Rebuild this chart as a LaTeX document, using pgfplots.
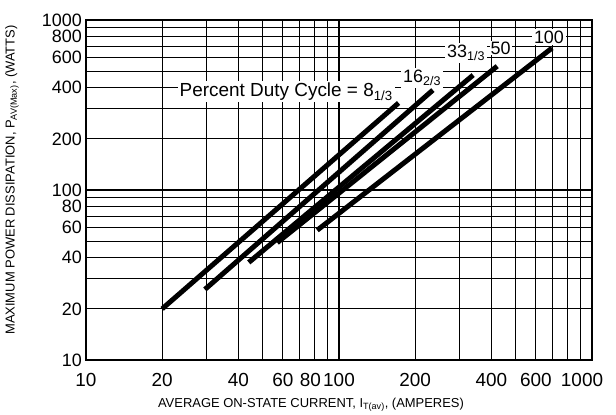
\documentclass[border=0pt]{standalone}
\usepackage{fontspec}
\setmainfont{Liberation Sans}
\usepackage{pgfplots}
\pgfplotsset{compat=1.18}
\begin{document}
\begin{tikzpicture}
\path[use as bounding box] (-86bp,-55bp) rectangle (530bp,360bp);
\begin{axis}[
  at={(0,0)}, anchor=south west,
  scale only axis, width=506bp, height=340bp,
  xmode=log, ymode=log,
  xmin=10, xmax=1000, ymin=10, ymax=1000,
  xtick={10,20,40,60,80,100,200,400,600,1000},
  xticklabels={10,20,40,60,\hspace*{-8bp}80,100,200,400,600,\hspace*{-20bp}1000},
  ytick={10,20,40,60,80,100,200,400,600,800,1000},
  yticklabels={10,20,40,60,80,100,200,400,600,800,1000},
  minor xtick={30,50,70,90,300,500,700,800,900},
  minor ytick={30,50,70,90,300,500,700,900},
  grid=both,
  major grid style={black, line width=1.2bp},
  minor grid style={black, line width=1.2bp},
  axis line style={line width=2.5bp},
  major tick length=0pt, minor tick length=0pt,
  xticklabel style={font=\fontsize{19}{19}\selectfont, inner sep=0pt, yshift=-13bp},
  yticklabel style={font=\fontsize{18}{18}\selectfont, inner sep=0pt, xshift=-4bp},
]
\addplot[black, line width=5bp] coordinates {(20,20) (172,325)};
\addplot[black, line width=5bp] coordinates {(29.5,26) (235,387)};
\addplot[black, line width=5bp] coordinates {(44,37.5) (339,474)};
\addplot[black, line width=5bp] coordinates {(57,49) (422,535)};
\addplot[black, line width=5bp] coordinates {(82,58) (695,684)};
\node[fill=white, inner sep=2bp, anchor=west, font=\fontsize{19}{19}\selectfont] at (axis cs:23,380) {Percent Duty Cycle = 8\textsubscript{1/3}};
\node[fill=white, inner sep=2bp, font=\fontsize{18}{18}\selectfont] at (axis cs:213,456) {16\textsubscript{2/3}};
\node[fill=white, inner sep=2bp, font=\fontsize{18}{18}\selectfont] at (axis cs:318,640) {33\textsubscript{1/3}};
\node[fill=white, inner sep=1bp, font=\fontsize{18}{18}\selectfont] at (axis cs:435,684) {50};
\node[fill=white, inner sep=2bp, font=\fontsize{18}{18}\selectfont] at (axis cs:676,794) {100};
\end{axis}
\node[font=\fontsize{13}{13}\selectfont] at (225bp,-45bp) {AVERAGE ON-STATE CURRENT, I\textsubscript{T(av)}, (AMPERES)};
\node[font=\fontsize{13}{13}\selectfont, rotate=90] at (-74bp,180bp) {MAXIMUM POWER DISSIPATION, P\textsubscript{AV(Max)}, (WATTS)};
\end{tikzpicture}
\end{document}
